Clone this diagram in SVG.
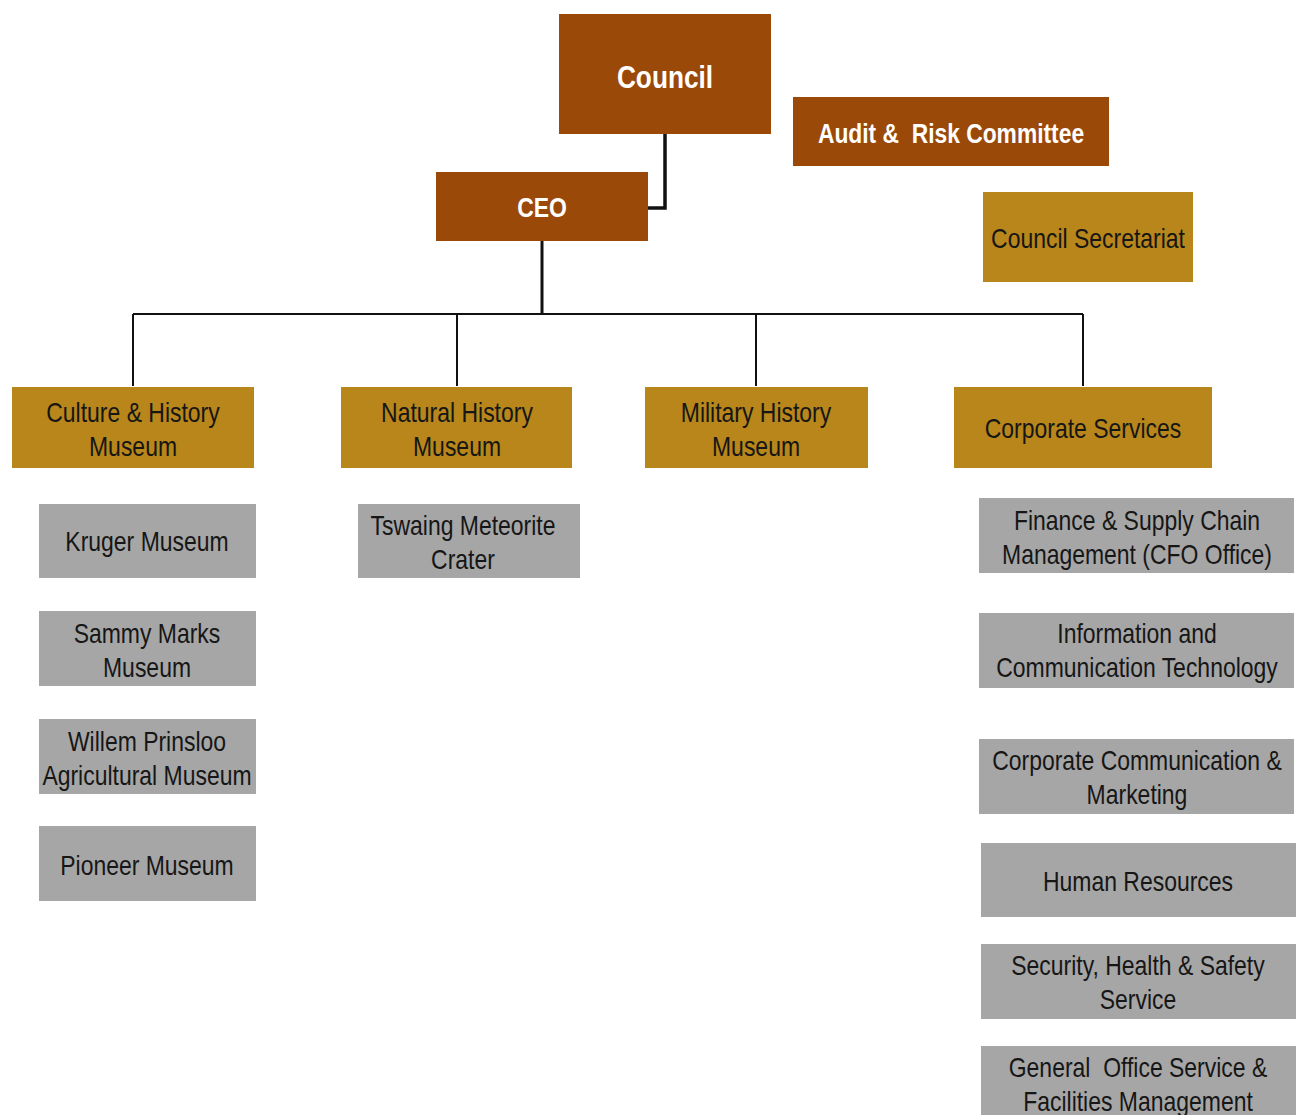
<svg xmlns="http://www.w3.org/2000/svg" width="1300" height="1115" viewBox="0 0 1300 1115">
<style>
.brown{fill:#9B4909}
.gold{fill:#B8861A}
.gray{fill:#A6A6A6}
text{font-family:"Liberation Sans",Arial,sans-serif;text-anchor:middle}
.w{fill:#FFFFFF;font-weight:bold;font-size:28px}
.d{fill:#161616;font-size:28px}
.conn{fill:none;stroke:#111;stroke-width:2}
</style>
<rect width="1300" height="1115" fill="#FFFFFF"/>
<g id="connectors">
<path class="conn" d="M665,134 V208 H648" style="stroke-width:3.5"/>
<path class="conn" d="M542,241 V314" style="stroke-width:3"/>
<path class="conn" d="M133,314 H1083"/>
<path class="conn" d="M133,314 V386 M457,314 V386 M756,314 V386 M1083,314 V386"/>
</g>
<g id="council"><rect class="brown" x="559" y="14" width="212" height="120"/>
<text class="w" style="font-size:32px" transform="translate(665,88) scale(0.82,1)">Council</text></g>
<g id="audit"><rect class="brown" x="793" y="97" width="316" height="69"/>
<text class="w" transform="translate(951,143) scale(0.815,1)" xml:space="preserve">Audit &amp;  Risk Committee</text></g>
<g id="secretariat"><rect class="gold" x="983" y="192" width="210" height="90"/>
<text class="d" transform="translate(1088,248) scale(0.82,1)">Council Secretariat</text></g>
<g id="ceo"><rect class="brown" x="436" y="172" width="212" height="69"/>
<text class="w" transform="translate(542,217) scale(0.82,1)">CEO</text></g>
<g id="culture"><rect class="gold" x="12" y="387" width="242" height="81"/>
<text class="d" transform="translate(133,422) scale(0.82,1)">Culture &amp; History</text>
<text class="d" transform="translate(133,456) scale(0.82,1)">Museum</text></g>
<g id="natural"><rect class="gold" x="341" y="387" width="231" height="81"/>
<text class="d" transform="translate(457,422) scale(0.82,1)">Natural History</text>
<text class="d" transform="translate(457,456) scale(0.82,1)">Museum</text></g>
<g id="military"><rect class="gold" x="645" y="387" width="223" height="81"/>
<text class="d" transform="translate(756,422) scale(0.82,1)">Military History</text>
<text class="d" transform="translate(756,456) scale(0.82,1)">Museum</text></g>
<g id="corporate"><rect class="gold" x="954" y="387" width="258" height="81"/>
<text class="d" transform="translate(1083,438) scale(0.82,1)">Corporate Services</text></g>
<g id="kruger"><rect class="gray" x="39" y="504" width="217" height="74"/>
<text class="d" transform="translate(147,551) scale(0.82,1)">Kruger Museum</text></g>
<g id="sammy"><rect class="gray" x="39" y="611" width="217" height="75"/>
<text class="d" transform="translate(147,643) scale(0.82,1)">Sammy Marks</text>
<text class="d" transform="translate(147,677) scale(0.82,1)">Museum</text></g>
<g id="willem"><rect class="gray" x="39" y="719" width="217" height="75"/>
<text class="d" transform="translate(147,751) scale(0.82,1)">Willem Prinsloo</text>
<text class="d" transform="translate(147,785) scale(0.82,1)">Agricultural Museum</text></g>
<g id="pioneer"><rect class="gray" x="39" y="826" width="217" height="75"/>
<text class="d" transform="translate(147,875) scale(0.82,1)">Pioneer Museum</text></g>
<g id="tswaing"><rect class="gray" x="358" y="504" width="222" height="74"/>
<text class="d" transform="translate(463,535) scale(0.82,1)">Tswaing Meteorite</text>
<text class="d" transform="translate(463,569) scale(0.82,1)">Crater</text></g>
<g id="finance"><rect class="gray" x="979" y="498" width="315" height="75"/>
<text class="d" transform="translate(1137,530) scale(0.82,1)">Finance &amp; Supply Chain</text>
<text class="d" transform="translate(1137,564) scale(0.82,1)">Management (CFO Office)</text></g>
<g id="ict"><rect class="gray" x="979" y="613" width="315" height="75"/>
<text class="d" transform="translate(1137,643) scale(0.82,1)">Information and</text>
<text class="d" transform="translate(1137,677) scale(0.82,1)">Communication Technology</text></g>
<g id="comms"><rect class="gray" x="979" y="739" width="315" height="75"/>
<text class="d" transform="translate(1137,770) scale(0.82,1)">Corporate Communication &amp;</text>
<text class="d" transform="translate(1137,804) scale(0.82,1)">Marketing</text></g>
<g id="hr"><rect class="gray" x="981" y="843" width="315" height="74"/>
<text class="d" transform="translate(1138,891) scale(0.82,1)">Human Resources</text></g>
<g id="security"><rect class="gray" x="981" y="944" width="315" height="75"/>
<text class="d" transform="translate(1138,975) scale(0.82,1)">Security, Health &amp; Safety</text>
<text class="d" transform="translate(1138,1009) scale(0.82,1)">Service</text></g>
<g id="general"><rect class="gray" x="981" y="1046" width="315" height="75"/>
<text class="d" transform="translate(1138,1077) scale(0.82,1)" xml:space="preserve">General  Office Service &amp;</text>
<text class="d" transform="translate(1138,1111) scale(0.82,1)">Facilities Management</text></g>
</svg>
